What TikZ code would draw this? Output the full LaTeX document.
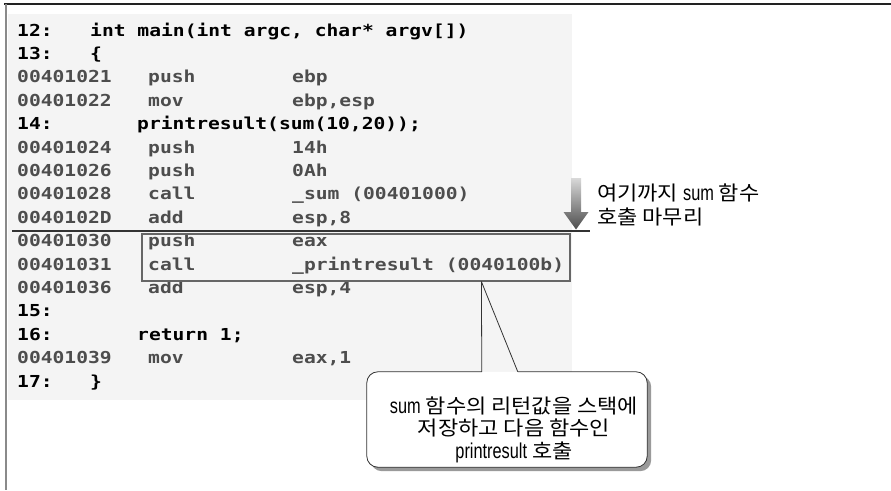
\documentclass[tikz,border=0pt]{standalone}
\usepackage{fontspec}
\usetikzlibrary{calc}
\newfontfamily\codefont[FakeStretch=1.19]{DejaVu Sans Mono}
\newfontfamily\krfont[FakeStretch=1.1]{Noto Sans CJK KR}
\newfontfamily\narrowsans[FakeStretch=0.76]{Liberation Sans}
\newcommand{\lat}[1]{{\narrowsans\fontsize{21.5}{23}\selectfont #1}}
\definecolor{asmgray}{HTML}{4D4D4D}
\definecolor{codebg}{HTML}{F4F4F4}
\definecolor{framedark}{HTML}{222222}
\definecolor{framegray}{HTML}{8A8A8A}
\definecolor{boxgray}{HTML}{666666}
\definecolor{rulegray}{HTML}{333333}
\definecolor{shadowgray}{HTML}{9A9A9A}
\begin{document}
\begin{tikzpicture}[x=1pt,y=-1pt,
  src/.style={anchor=base west, inner sep=0pt, text=black,
    font=\codefont\bfseries\fontsize{16.5}{20}\selectfont},
  asm/.style={src, text=asmgray},
  note/.style={inner sep=0pt, text=black,
    font=\krfont\fontsize{20}{23.5}\selectfont},
  pointer/.style={draw=rulegray, line width=0.8pt}]
\useasboundingbox (0,0) rectangle (891,490);

% frame and code panel
\fill[codebg] (8,14) rectangle (572,400);
\draw[framedark, line width=1.5pt] (4,4) -- (891,4);
\draw[framegray, line width=2pt] (5.5,4) -- (5.5,490);

% source lines and disassembly
\node[src] (n12) at (17,36) {12:};
\node[src] (n12t) at (90,36) {int main(int argc, char* argv[])};
\node[src] (n13) at (17,59.4) {13:};
\node[src] (n13t) at (90,59.4) {\{};
\node[asm] (a21) at (17,82.8) {00401021};
\node[asm] (a21m) at (148,82.8) {push};
\node[asm] (a21o) at (292,82.8) {ebp};
\node[asm] (a22) at (17,106.2) {00401022};
\node[asm] (a22m) at (148,106.2) {mov};
\node[asm] (a22o) at (292,106.2) {ebp,esp};
\node[src] (n14) at (17,129.6) {14:};
\node[src] (n14t) at (137,129.6) {printresult(sum(10,20));};
\node[asm] (a24) at (17,153) {00401024};
\node[asm] (a24m) at (148,153) {push};
\node[asm] (a24o) at (292,153) {14h};
\node[asm] (a26) at (17,176.4) {00401026};
\node[asm] (a26m) at (148,176.4) {push};
\node[asm] (a26o) at (292,176.4) {0Ah};
\node[asm] (a28) at (17,199.8) {00401028};
\node[asm] (a28m) at (148,199.8) {call};
\node[asm] (a28o) at (292,199.8) {\_sum (00401000)};
\node[asm] (a2d) at (17,223.2) {0040102D};
\node[asm] (a2dm) at (148,223.2) {add};
\node[asm] (a2do) at (292,223.2) {esp,8};
\node[asm] (a30) at (17,246.6) {00401030};
\node[asm] (a30m) at (148,246.6) {push};
\node[asm] (a30o) at (292,246.6) {eax};
\node[asm] (a31) at (17,270) {00401031};
\node[asm] (a31m) at (148,270) {call};
\node[asm] (a31o) at (292,270) {\_printresult (0040100b)};
\node[asm] (a36) at (17,293.4) {00401036};
\node[asm] (a36m) at (148,293.4) {add};
\node[asm] (a36o) at (292,293.4) {esp,4};
\node[src] (n15) at (17,316.8) {15:};
\node[src] (n16) at (17,340.2) {16:};
\node[src] (n16t) at (137,340.2) {return 1;};
\node[asm] (a39) at (17,363.6) {00401039};
\node[asm] (a39m) at (148,363.6) {mov};
\node[asm] (a39o) at (292,363.6) {eax,1};
\node[src] (n17) at (17,387) {17:};
\node[src] (n17t) at (90,387) {\}};

% end of the sum call
\draw[rulegray, line width=1.8pt] (12,231) -- (590,231);
\shade[top color=black!15, bottom color=black!70]
  (571,178) -- (581,178) -- (581,212) -- (588.5,212) -- (576,229.5)
  -- (563.5,212) -- (571,212) -- cycle;
\node[note, anchor=west, align=left] (sumdone) at (597,205)
  {여기까지 \lat{sum} 함수\\호출 마무리};

% highlighted instructions
\node[draw=boxgray, line width=1.2pt, minimum width=428pt,
  minimum height=47pt, inner sep=0pt] (hl) at (356,257.5) {};

% callout
\node[inner sep=0pt, minimum width=280pt, minimum height=95pt] (callout)
  at (507,419.5) {};
\fill[shadowgray, rounded corners=11pt]
  ($(callout.north west)+(4,4)$) rectangle ($(callout.south east)+(4,4)$);
\fill[white, rounded corners=11pt]
  (callout.north west) rectangle (callout.south east);
\draw[pointer, rounded corners=11pt]
  ($(callout.north west)+(151,0)$) -- (callout.north east)
  -- (callout.south east) -- (callout.south west)
  -- (callout.north west) -- ($(callout.north west)+(115,0)$);
\coordinate (apex) at ($(hl.south west)+(340,0)$);
\draw[pointer] (apex) -- ($(callout.north west)+(115,0)$);
\draw[pointer] (apex) -- ($(callout.north west)+(151,0)$);
\node[note, align=center, font=\krfont\fontsize{20}{22.5}\selectfont]
  (calltext) at (514,429.5)
  {\lat{sum} 함수의 리턴값을 스택에\\저장하고 다음 함수인\\\lat{printresult} 호출};
\end{tikzpicture}
\end{document}
